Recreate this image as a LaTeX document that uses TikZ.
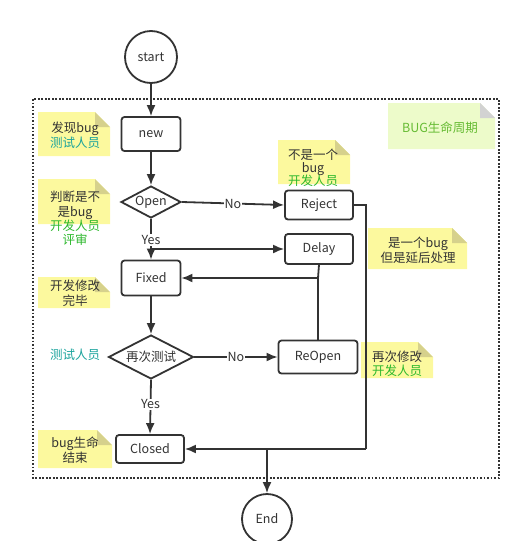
\documentclass[tikz,border=0pt]{standalone}
\usepackage{fontspec}
\setmainfont{Noto Sans CJK SC}
\usepackage{tikz}
\usetikzlibrary{arrows.meta,shapes.geometric,positioning}
\definecolor{linec}{HTML}{333333}
\definecolor{notey}{HTML}{FCF99E}
\definecolor{foldy}{HTML}{D6D18C}
\definecolor{noteg}{HTML}{EDFBCA}
\definecolor{foldg}{HTML}{D2D2D2}
\definecolor{tealc}{HTML}{1AA39C}
\definecolor{greenc}{HTML}{2DB82D}
\definecolor{bugc}{HTML}{66BB33}
\begin{document}
\begin{tikzpicture}[x=1pt,y=-1pt,
  every node/.style={font=\fontsize{12.5}{15}\selectfont,text=linec},
  box/.style={draw=linec,line width=1.8pt,rounded corners=3pt,fill=white,inner sep=0pt},
  term/.style={draw=linec,line width=1.8pt,circle,fill=white,inner sep=0pt},
  dec/.style={draw=linec,line width=1.8pt,diamond,fill=white,inner sep=0pt},
  flow/.style={draw=linec,line width=1.8pt,-{Latex[length=11pt,width=9pt]}},
  seg/.style={draw=linec,line width=1.8pt},
  lab/.style={fill=white,inner sep=1pt},
  notetext/.style={align=center,inner sep=0pt}]
\useasboundingbox (0,0) rectangle (525,541);
%outside dotted frame
\draw[linec,line width=1.6pt,dash pattern=on 1.6pt off 1.9pt] (33,99) rectangle (499,478);
%sticky notes
\fill[notey] (38,112) -- (95,112) -- (110,127) -- (110,156) -- (38,156) -- cycle; \fill[foldy] (95,112) -- (110,127) -- (95,127) -- cycle;
\fill[notey] (38,179) -- (95,179) -- (110,194) -- (110,224) -- (38,224) -- cycle; \fill[foldy] (95,179) -- (110,194) -- (95,194) -- cycle;
\fill[notey] (38,277) -- (95,277) -- (110,292) -- (110,308) -- (38,308) -- cycle; \fill[foldy] (95,277) -- (110,292) -- (95,292) -- cycle;
\fill[notey] (38,430) -- (97,430) -- (112,445) -- (112,468) -- (38,468) -- cycle; \fill[foldy] (97,430) -- (112,445) -- (97,445) -- cycle;
\fill[notey] (278,140) -- (335,140) -- (350,155) -- (350,184) -- (278,184) -- cycle; \fill[foldy] (335,140) -- (350,155) -- (335,155) -- cycle;
\fill[notey] (368,228) -- (452,228) -- (467,243) -- (467,269) -- (368,269) -- cycle; \fill[foldy] (452,228) -- (467,243) -- (452,243) -- cycle;
\fill[notey] (361,342) -- (418,342) -- (433,357) -- (433,378) -- (361,378) -- cycle; \fill[foldy] (418,342) -- (433,357) -- (418,357) -- cycle;
\fill[noteg] (388,103) -- (480,103) -- (495,118) -- (495,149) -- (388,149) -- cycle; \fill[foldg] (480,103) -- (495,118) -- (480,118) -- cycle;
%note texts
\node[notetext] (findbug) at (75,135) {发现bug\\\textcolor{tealc}{测试人员}};
\node[notetext] (judge) at (75,218) {判断是不\\是bug\\[-1pt]\textcolor{greenc}{开发人员}\\[-1pt]\textcolor{greenc}{评审}};
\node[notetext] (fixdone) at (75,293) {开发修改\\完毕};
\node[text=tealc] (tester) at (75,355) {测试人员};
\node[notetext] (bugend) at (75,450) {bug生命\\结束};
\node[notetext,font=\fontsize{12.5}{13}\selectfont] (notbug) at (313,168) {不是一个\\bug\\[-2pt]\textcolor{greenc}{开发人员}};
\node[notetext] (later) at (418,250) {是一个bug\\但是延后处理};
\node[notetext,align=left,font=\fontsize{12.5}{14}\selectfont] (refix) at (397,364) {再次修改\\\textcolor{greenc}{开发人员}};
\node[text=bugc] (title) at (440,128) {BUG生命周期};
%flow nodes
\node[term,minimum size=52pt] (start) at (151,57) {start};
\node[box,minimum width=59pt,minimum height=34pt] (new) at (151,134) {new};
\node[dec,minimum width=60pt,minimum height=32pt,aspect=1.9] (open) at (151,202) {Open};
\node[box,minimum width=68pt,minimum height=29pt] (reject) at (319,205) {Reject};
\node[box,minimum width=68pt,minimum height=30pt] (delay) at (319,249) {Delay};
\node[box,minimum width=59pt,minimum height=35pt] (fixed) at (151,278) {Fixed};
\node[dec,minimum width=85pt,minimum height=44pt,aspect=1.9] (retest) at (151,357) {再次测试};
\node[box,minimum width=79pt,minimum height=33pt] (reopen) at (318,357) {ReOpen};
\node[box,minimum width=68pt,minimum height=28pt] (closed) at (150,449) {Closed};
\node[term,minimum size=50pt] (end) at (267,519) {End};
%turning points
\coordinate (rjturn) at (366,205);
\coordinate (rjdown) at (366,449);
\coordinate (yesfork) at (151,249);
\coordinate (backfix) at (318,278);
\coordinate (endfork) at (267,449);
%connectors
\draw[flow] (start) -- (new);
\draw[flow] (new) -- (open);
\draw[flow] (open.east) -- node[lab] (no1) {No} (reject.west);
\draw[flow] (open.south) -- (fixed.north);
\node[lab] (yes1) at (151,240) {Yes};
\draw[flow] (yesfork) -- (delay.west);
\draw[seg] (delay.south) -- (backfix);
\draw[seg] (reopen.north) -- (backfix);
\draw[flow] (backfix) -- (fixed.east);
\draw[flow] (fixed) -- (retest);
\draw[flow] (retest.east) -- node[lab] (no2) {No} (reopen.west);
\draw[flow] (retest.south) -- node[lab,pos=0.45] (yes2) {Yes} (closed.north);
\draw[seg] (reject.east) -- (rjturn) -- (rjdown);
\draw[flow] (rjdown) -- (closed.east);
\draw[flow] (endfork) -- (end.north);
\end{tikzpicture}
\end{document}
